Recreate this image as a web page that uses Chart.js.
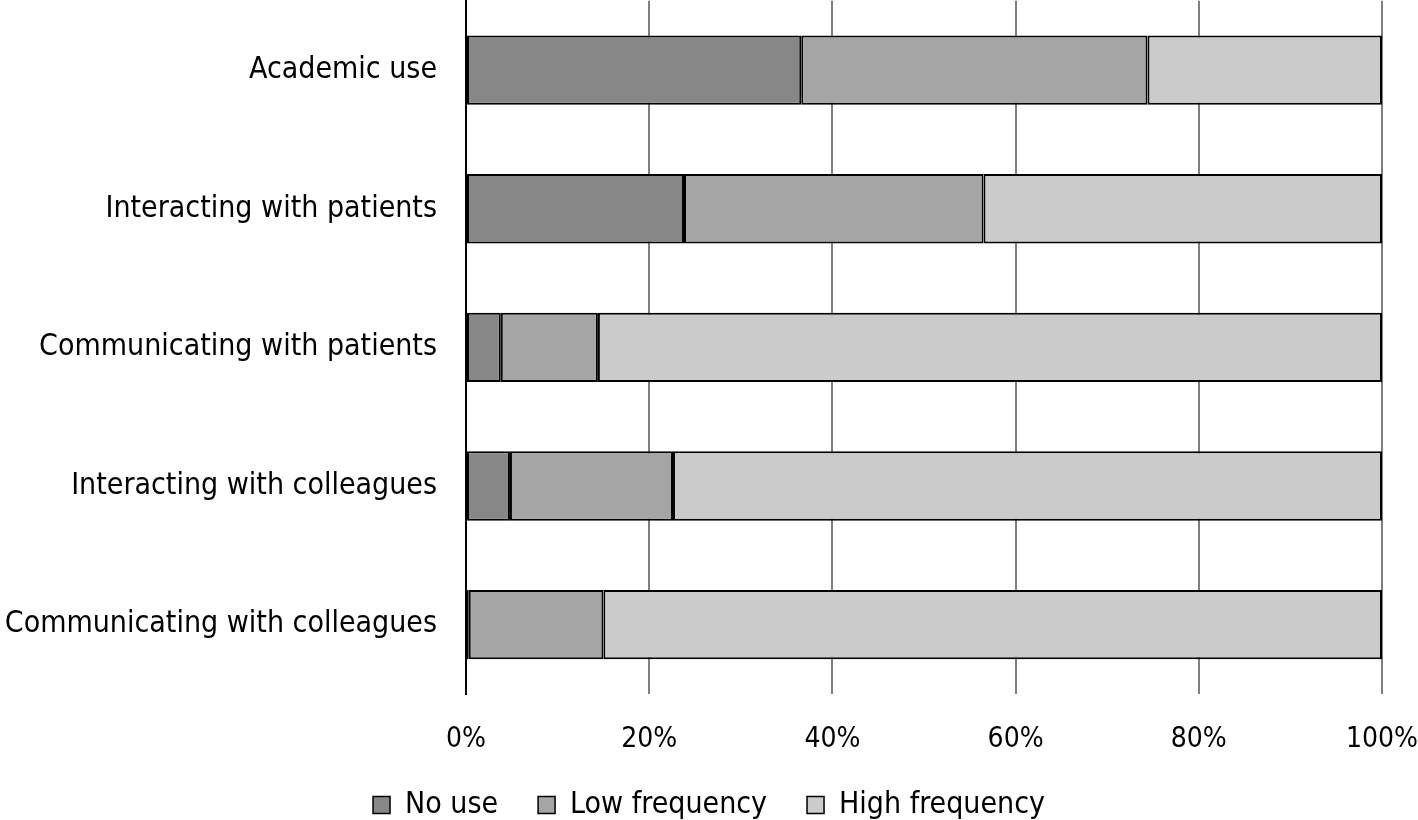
<!DOCTYPE html>
<html>
<head>
<meta charset="utf-8">
<script src="https://cdn.jsdelivr.net/npm/chart.js@4/dist/chart.umd.min.js"></script>
<style>
  html, body { margin: 0; padding: 0; background: #fff; }
  #wrap { width: 1418px; height: 820px; position: relative; }
</style>
</head>
<body>
<div id="wrap"><canvas id="usage_chart"></canvas></div>
<script>
// categories (top to bottom) and shares in percent
const categories = [
    "Academic use",
    "Interacting with patients",
    "Communicating with patients",
    "Interacting with colleagues",
    "Communicating with colleagues"
];
const no_use = [36.6, 23.8, 3.8, 4.8, 0.3];
const low_frequency = [37.8, 32.7, 10.6, 17.8, 14.7];
const high_frequency = [25.6, 43.5, 85.6, 77.4, 85.0];
const series_names = ["No use", "Low frequency", "High frequency"];
const tick_values = [0, 20, 40, 60, 80, 100];

const FONT = "'DejaVu Sans Condensed', 'DejaVu Sans', sans-serif";
const colors = ["#878787", "#a5a5a5", "#cbcbcb"];

function makeSet(i, values) {
    return {
        label: series_names[i],
        data: values,
        backgroundColor: colors[i],
        borderColor: "#000",
        borderWidth: 2,
        borderSkipped: false,
        barPercentage: 0.5,
        categoryPercentage: 1.0
    };
}

new Chart("usage_chart", {
    type: "bar",
    data: {
        labels: categories,
        datasets: [
            makeSet(0, no_use),
            makeSet(1, low_frequency),
            makeSet(2, high_frequency)
        ]
    },
    options: {
        indexAxis: "y",
        responsive: true,
        maintainAspectRatio: false,
        animation: false,
        layout: { padding: { top: 0, right: 0, left: 0, bottom: -10 } },
        plugins: {
            tooltip: { enabled: false },
            legend: {
                position: "bottom",
                labels: {
                    color: "#000",
                    font: { family: FONT, size: 30 },
                    boxWidth: 17,
                    boxHeight: 17,
                    padding: 40,
                    generateLabels: (chart) => chart.data.datasets.map((ds, i) => ({
                        text: ds.label,
                        fillStyle: ds.backgroundColor,
                        strokeStyle: "#000",
                        lineWidth: 1.5,
                        datasetIndex: i
                    }))
                }
            }
        },
        scales: {
            x: {
                stacked: true,
                min: 0,
                max: 100,
                afterBuildTicks: (axis) => { axis.ticks = tick_values.map(v => ({ value: v })); },
                afterFit: (axis) => {
                    axis.height = 56;
                    axis.paddingRight = 36;   // room for the "100%" label only
                },
                border: { display: false },
                grid: {
                    color: (ctx) => ctx.tick && ctx.tick.value === 0 ? "#000" : "#7f7f7f",
                    lineWidth: 2,
                    drawTicks: true,
                    tickLength: 29,
                    tickColor: "rgba(0,0,0,0)"
                },
                ticks: {
                    color: "#000",
                    padding: 0,
                    font: { family: FONT, size: 28 },
                    callback: (v) => v + "%"
                }
            },
            y: {
                stacked: true,
                afterFit: (axis) => { axis.width = 466; },
                border: { display: true, color: "#000", width: 2 },
                grid: { display: false, drawTicks: true, tickLength: 29 },
                ticks: {
                    color: "#000",
                    padding: 0,
                    font: { family: FONT, size: 30, lineHeight: 0.05 }
                }
            }
        }
    }
});
</script>
</body>
</html>
